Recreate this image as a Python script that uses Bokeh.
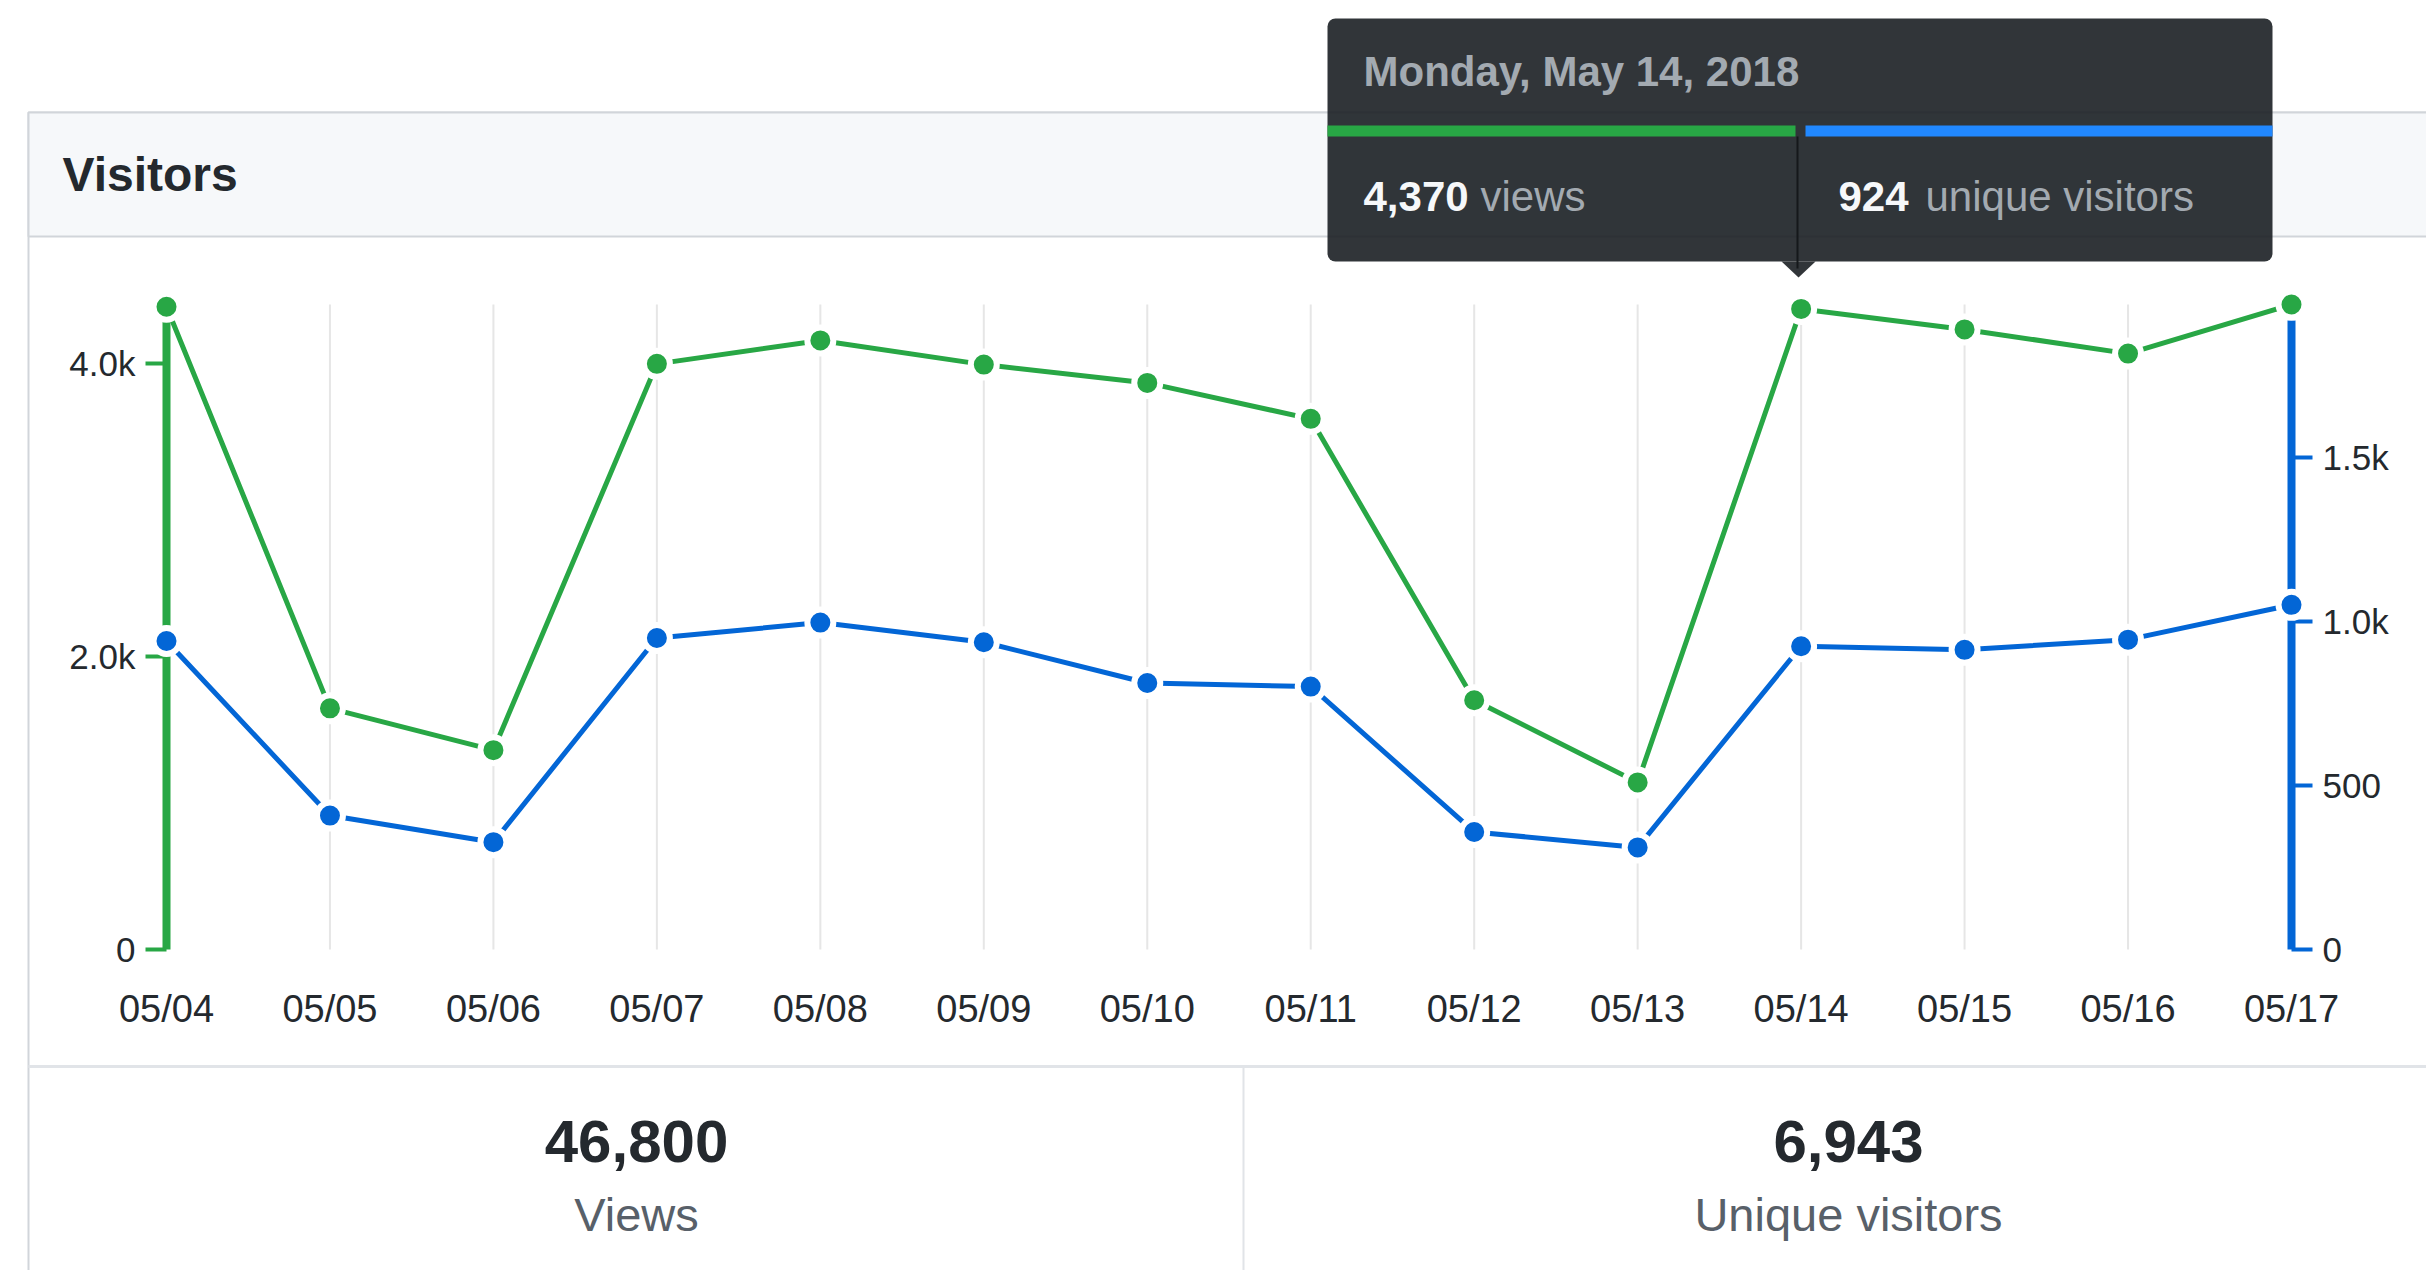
from bokeh.plotting import figure
from bokeh.models import Range1d, LinearAxis, FixedTicker, Quad
from bokeh.embed import file_html
from bokeh.resources import INLINE
from bokeh.core.properties import value

# ---------------- data ----------------
dates = ["05/04", "05/05", "05/06", "05/07", "05/08", "05/09", "05/10",
         "05/11", "05/12", "05/13", "05/14", "05/15", "05/16", "05/17"]
views = [4385, 1645, 1360, 3995, 4155, 3990, 3865, 3620, 1700, 1140, 4370, 4230, 4065, 4400]
uniques = [940, 408, 327, 949, 996, 936, 812, 801, 358, 311, 924, 913, 944, 1050]

views_ticks = [0, 2000, 4000]
views_tick_labels = ["0", "2.0k", "4.0k"]
uv_ticks = [0, 500, 1000, 1500]
uv_tick_labels = ["0", "500", "1.0k", "1.5k"]
views_max = 4400
uv_max = 1965

panel_title = "Visitors"
tooltip_index = 10
tooltip_date = "Monday, May 14, 2018"
tooltip_views_unit = "views"
tooltip_uv_unit = "unique visitors"
total_views = "46,800"
total_uniques = "6,943"
stat_labels = ["Views", "Unique visitors"]

GREEN = "#28a745"
BLUE = "#0366d6"
TIP_BLUE = "#2188ff"
DARK = "#24292e"
GRAY = "#586069"
FONT = "Liberation Sans"

# ---------------- layout (page pixels) ----------------
W, H, M = 2426, 1270, 0
PX_L, PX_R, PX_T, PX_B = 166, 2291, 304, 949
AXIS_TOP_PX = 320

n = len(dates)
xs = list(range(n))
ux = (PX_R - PX_L) / (n - 1)
uyv = (PX_B - PX_T) / views_max
uyu = (PX_B - PX_T) / uv_max

x_rng = Range1d(0 - (PX_L - M) / ux, (n - 1) + (M + W - PX_R) / ux)
yv_rng = Range1d(-((M + H) - PX_B) / uyv, views_max + (PX_T - M) / uyv)
yu_rng = Range1d(-((M + H) - PX_B) / uyu, uv_max + (PX_T - M) / uyu)

p = figure(width=W, height=H, x_range=x_rng, y_range=yv_rng,
           output_backend="svg", toolbar_location=None,
           x_axis_type=None, y_axis_type=None, min_border=0,
           outline_line_color=None, background_fill_color="white",
           border_fill_color="white")
p.min_border_left = p.min_border_right = p.min_border_top = p.min_border_bottom = 0
p.extra_y_ranges = {"uv": yu_rng, "py": Range1d(M + H, M)}
p.extra_x_ranges = {"px": Range1d(M, M + W)}

PXK = dict(x_range_name="px", y_range_name="py")
RADIUS = {"border_radius": 8} if "border_radius" in Quad.properties() else {}

# ---------------- card decoration ----------------
p.quad(left=[28], right=[2700], top=[112], bottom=[1500], fill_color="white",
       line_color="#d1d5da", line_width=2, **PXK)
p.quad(left=[28], right=[2700], top=[112], bottom=[236], fill_color="#f6f8fa",
       line_color="#d1d5da", line_width=2, **PXK)
p.segment(x0=[28], y0=[1066], x1=[2700], y1=[1066], line_color="#e1e4e8", line_width=3, **PXK)
p.segment(x0=[1243], y0=[1066], x1=[1243], y1=[1500], line_color="#e1e4e8", line_width=2, **PXK)

p.text(x=[62], y=[174], text=[panel_title], text_font=value(FONT), text_font_style="bold",
       text_font_size="48px", text_color=DARK, text_baseline="middle", text_align="left", **PXK)

# ---------------- chart ----------------
p.segment(x0=xs[1:-1], y0=[0] * (n - 2), x1=xs[1:-1], y1=[views_max] * (n - 2),
          line_color="#e6e6e6", line_width=2)

p.line(xs, views, line_color=GREEN, line_width=5)
p.line(xs, uniques, line_color=BLUE, line_width=5, y_range_name="uv")
p.scatter(xs, views, size=26, fill_color=GREEN, line_color="white", line_width=6, level="overlay")
p.scatter(xs, uniques, size=26, fill_color=BLUE, line_color="white", line_width=6,
          y_range_name="uv", level="overlay")

def style_y(ax, color):
    ax.axis_line_color = color
    ax.axis_line_width = 8
    ax.major_tick_line_color = color
    ax.major_tick_line_width = 4
    ax.major_tick_out = 21
    ax.major_tick_in = 0
    ax.minor_tick_line_color = None
    ax.major_label_standoff = 10
    ax.major_label_text_font = FONT
    ax.major_label_text_font_size = "35px"
    ax.major_label_text_color = DARK

yl = LinearAxis(ticker=FixedTicker(ticks=views_ticks),
                major_label_overrides=dict(zip(views_ticks, views_tick_labels)),
                fixed_location=0,
                bounds=(0, views_max * (PX_B - AXIS_TOP_PX) / (PX_B - PX_T)))
style_y(yl, GREEN)
p.add_layout(yl, "left")

yr = LinearAxis(y_range_name="uv", ticker=FixedTicker(ticks=uv_ticks),
                major_label_overrides=dict(zip(uv_ticks, uv_tick_labels)),
                fixed_location=n - 1,
                bounds=(0, uv_max * (PX_B - AXIS_TOP_PX) / (PX_B - PX_T)))
style_y(yr, BLUE)
p.add_layout(yr, "right")

xa = LinearAxis(ticker=FixedTicker(ticks=xs),
                major_label_overrides={i: d for i, d in enumerate(dates)},
                fixed_location=0)
xa.axis_line_color = None
xa.major_tick_line_color = None
xa.minor_tick_line_color = None
xa.major_tick_out = 0
xa.major_tick_in = 0
xa.major_label_standoff = 38
xa.major_label_text_font = FONT
xa.major_label_text_font_size = "38px"
xa.major_label_text_color = DARK
p.add_layout(xa, "below")

# ---------------- stats ----------------
p.text(x=[636, 1848], y=[1141, 1141], text=[total_views, total_uniques], text_font=value(FONT),
       text_font_style="bold", text_font_size="60px", text_color=DARK,
       text_baseline="middle", text_align="center", **PXK)
p.text(x=[636, 1848], y=[1214, 1214], text=stat_labels, text_font=value(FONT),
       text_font_size="47px", text_color=GRAY, text_baseline="middle",
       text_align="center", **PXK)

# ---------------- tooltip ----------------
TIP_FILL = "#1b1f23"
p.quad(left=[1327], right=[2272], top=[18], bottom=[261], fill_color=TIP_FILL, fill_alpha=0.9,
       line_color=None, **RADIUS, **PXK)
p.patch(x=[1781, 1815, 1798], y=[261, 261, 277], fill_color=TIP_FILL, fill_alpha=0.9,
        line_color=None, **PXK)
p.quad(left=[1327], right=[1795], top=[125], bottom=[136], fill_color=GREEN, line_color=None, **PXK)
p.quad(left=[1805], right=[2272], top=[125], bottom=[136], fill_color=TIP_BLUE, line_color=None, **PXK)
p.segment(x0=[1797], y0=[136], x1=[1797], y1=[268], line_color="#15181b", line_width=2, **PXK)

p.text(x=[1363], y=[71], text=[tooltip_date], text_font=value(FONT), text_font_style="bold",
       text_font_size="42px", text_color="#a3aab1", text_baseline="middle", **PXK)
p.text(x=[1363, 1838], y=[196, 196],
       text=[f"{views[tooltip_index]:,}", f"{uniques[tooltip_index]:,}"],
       text_font=value(FONT), text_font_style="bold", text_font_size="42px",
       text_color="#f6f8fa", text_baseline="middle", **PXK)
p.text(x=[1480, 1925], y=[196, 196], text=[tooltip_views_unit, tooltip_uv_unit],
       text_font=value(FONT), text_font_size="42px", text_color="#a3aab1",
       text_baseline="middle", **PXK)

open("out.html", "w").write(file_html(p, INLINE))
